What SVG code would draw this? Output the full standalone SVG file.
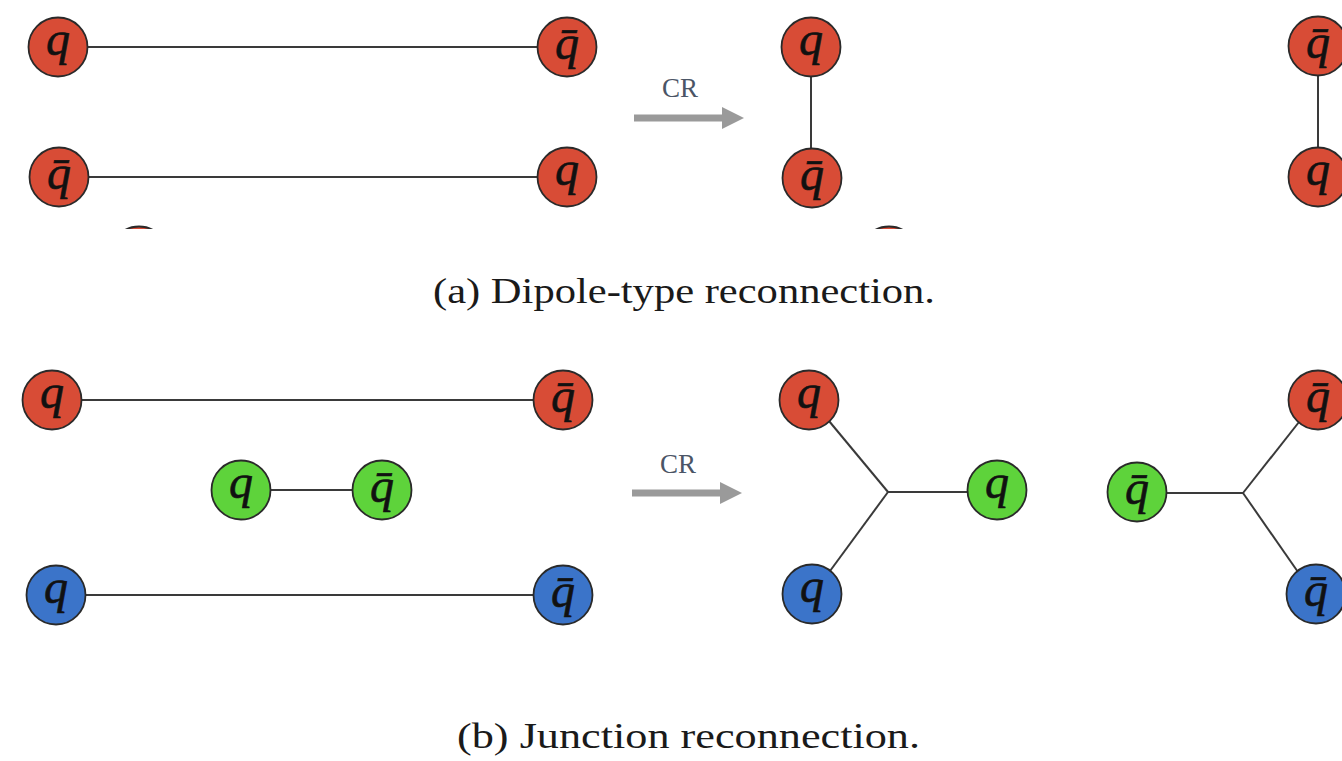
<svg xmlns="http://www.w3.org/2000/svg" width="1342" height="761" viewBox="0 0 1342 761">
  <style>
    .n circle { stroke: #2a2a2a; stroke-width: 1.8; }
    .red circle { fill: #d84c36; }
    .green circle { fill: #5ed33b; }
    .blue circle { fill: #3b74c9; }
    .lbl { font-family: "Liberation Serif", "DejaVu Serif", serif; font-style: italic; font-size: 48px; fill: #111; text-anchor: middle; stroke: #111; stroke-width: 0.6; }
    .edge { stroke: #3a3a3a; stroke-width: 2; fill: none; }
    .arrow { stroke: #9a9a9a; stroke-width: 7; fill: none; }
    .arrowhead { fill: #9a9a9a; }
    .cr { font-family: "Liberation Serif", "DejaVu Serif", serif; font-size: 27px; fill: #4b5566; text-anchor: middle; }
    .cap { font-family: "Liberation Serif", "DejaVu Serif", serif; font-size: 35px; fill: #1a1a1a; }
  </style>
  <defs>
    <clipPath id="cropA"><rect x="0" y="0" width="1342" height="229"/></clipPath>
  </defs>
  <rect width="1342" height="761" fill="#ffffff"/>

  <g id="connectors">
    <line class="edge" x1="87" y1="47" x2="538" y2="47"/>
    <line class="edge" x1="88" y1="177" x2="538" y2="177"/>
    <line class="edge" x1="811" y1="76" x2="811" y2="149"/>
    <line class="edge" x1="1318" y1="76" x2="1318" y2="148"/>
    <line class="edge" x1="82" y1="400" x2="534" y2="400"/>
    <line class="edge" x1="86" y1="595" x2="534" y2="595"/>
    <line class="edge" x1="271" y1="490" x2="352" y2="490"/>
    <line class="edge" x1="829" y1="421" x2="888" y2="492"/>
    <line class="edge" x1="830" y1="571" x2="888" y2="492"/>
    <line class="edge" x1="888" y1="492" x2="967" y2="492"/>
    <line class="edge" x1="1167" y1="493" x2="1243" y2="493"/>
    <line class="edge" x1="1299" y1="422" x2="1243" y2="493"/>
    <line class="edge" x1="1298" y1="572" x2="1243" y2="493"/>
    <line class="arrow" x1="634" y1="118" x2="724" y2="118"/>
    <polygon class="arrowhead" points="722,107 744,118 722,129"/>
    <line class="arrow" x1="632" y1="493" x2="722" y2="493"/>
    <polygon class="arrowhead" points="720,482 742,493 720,504"/>
  </g>

  <text class="cr" x="680" y="97">CR</text>
  <text class="cr" x="678" y="473">CR</text>

  <g id="a-q1" class="n red"><circle cx="58" cy="47" r="29.5"/><text class="lbl" x="58" y="55">q</text></g>
  <g id="a-qb1" class="n red"><circle cx="59" cy="177" r="29.5"/><text class="lbl" x="59" y="189">q̄</text></g>
  <g id="a-qb2" class="n red"><circle cx="567" cy="47" r="29.5"/><text class="lbl" x="567" y="59">q̄</text></g>
  <g id="a-q2" class="n red"><circle cx="567" cy="177" r="29.5"/><text class="lbl" x="567" y="185">q</text></g>
  <g id="a-q3" class="n red"><circle cx="811" cy="47" r="29.5"/><text class="lbl" x="811" y="55">q</text></g>
  <g id="a-qb3" class="n red"><circle cx="812" cy="178" r="29.5"/><text class="lbl" x="812" y="190">q̄</text></g>
  <g id="a-qb4" class="n red"><circle cx="1318" cy="46" r="29.5"/><text class="lbl" x="1318" y="58">q̄</text></g>
  <g id="a-q4" class="n red"><circle cx="1318" cy="177" r="29.5"/><text class="lbl" x="1318" y="185">q</text></g>
  <g id="a-cut1" class="n red" clip-path="url(#cropA)"><circle cx="139" cy="256" r="29.5"/></g>
  <g id="a-cut2" class="n red" clip-path="url(#cropA)"><circle cx="889" cy="256" r="29.5"/></g>

  <text class="cap" x="433" y="303" textLength="502" lengthAdjust="spacingAndGlyphs">(a) Dipole-type reconnection.</text>

  <g id="b-q1" class="n red"><circle cx="52" cy="400" r="29.5"/><text class="lbl" x="52" y="408">q</text></g>
  <g id="b-qb1" class="n red"><circle cx="563" cy="400" r="29.5"/><text class="lbl" x="563" y="412">q̄</text></g>
  <g id="b-gq" class="n green"><circle cx="241" cy="490" r="29.5"/><text class="lbl" x="241" y="498">q</text></g>
  <g id="b-gqb" class="n green"><circle cx="382" cy="490" r="29.5"/><text class="lbl" x="382" y="502">q̄</text></g>
  <g id="b-bq" class="n blue"><circle cx="56" cy="595" r="29.5"/><text class="lbl" x="56" y="603">q</text></g>
  <g id="b-bqb" class="n blue"><circle cx="563" cy="595" r="29.5"/><text class="lbl" x="563" y="607">q̄</text></g>
  <g id="b-q2" class="n red"><circle cx="809" cy="400" r="29.5"/><text class="lbl" x="809" y="408">q</text></g>
  <g id="b-gq2" class="n green"><circle cx="997" cy="490" r="29.5"/><text class="lbl" x="997" y="498">q</text></g>
  <g id="b-bq2" class="n blue"><circle cx="812" cy="594" r="29.5"/><text class="lbl" x="812" y="602">q</text></g>
  <g id="b-gqb2" class="n green"><circle cx="1137" cy="492" r="29.5"/><text class="lbl" x="1137" y="504">q̄</text></g>
  <g id="b-qb2" class="n red"><circle cx="1318" cy="400" r="29.5"/><text class="lbl" x="1318" y="412">q̄</text></g>
  <g id="b-bqb2" class="n blue"><circle cx="1316" cy="594" r="29.5"/><text class="lbl" x="1316" y="606">q̄</text></g>

  <text class="cap" x="457" y="748" textLength="463" lengthAdjust="spacingAndGlyphs">(b) Junction reconnection.</text>
</svg>
